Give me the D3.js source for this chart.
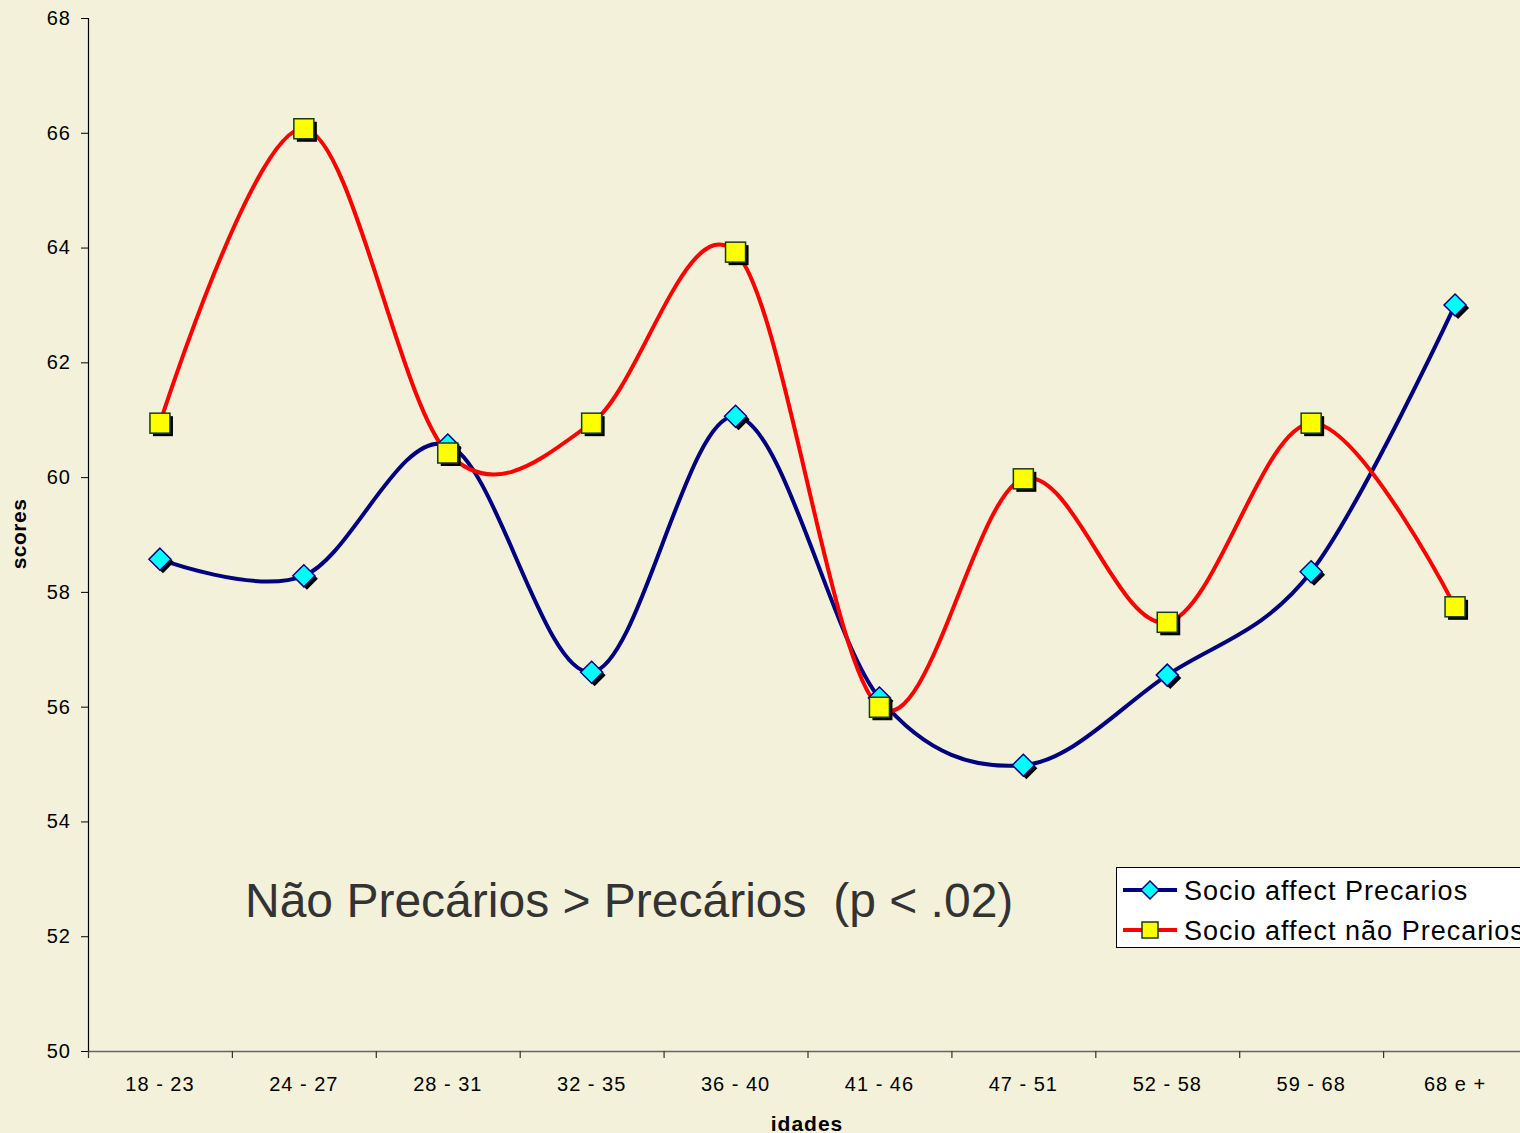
<!DOCTYPE html>
<html><head><meta charset="utf-8">
<script src="https://cdn.jsdelivr.net/npm/d3@7"></script>
<style>html,body{margin:0;padding:0;background:#F3F1DA;overflow:hidden}svg{display:block}text{font-family:Arial,"Liberation Sans",sans-serif}</style>
</head><body>
<script>
const categories = ["18 - 23","24 - 27","28 - 31","32 - 35","36 - 40","41 - 46","47 - 51","52 - 58","59 - 68","68 e +"];
const precarios = [58.57, 58.28, 60.56, 56.6, 61.06, 56.15, 54.98, 56.55, 58.35, 63.0];
const naoPrecarios = [60.94, 66.07, 60.42, 60.94, 63.92, 55.99, 59.97, 57.47, 60.94, 57.74];
const yTicks = [50,52,54,56,58,60,62,64,66,68];
const seriesNames = ["Socio affect Precarios","Socio affect não Precarios"];

(function(){
const W=1520,H=1133;
const svg=d3.select("body").append("svg").attr("width",W).attr("height",H);
svg.append("rect").attr("width",W).attr("height",H).attr("fill","#F3F1DA");
const plotLeft=88, bandW=143.9, plotTop=18, plotBottom=1051;
const x=d3.scaleBand().domain(categories).range([plotLeft,plotLeft+bandW*categories.length]);
const y=d3.scaleLinear().domain([50,68]).range([plotBottom,plotTop]);

const ya=svg.append("g").attr("transform",`translate(${plotLeft},0)`)
 .call(d3.axisLeft(y).tickValues(yTicks).tickSize(7).tickPadding(11).tickFormat(d3.format("d")));
ya.select(".domain").attr("stroke","#000").attr("stroke-width",1.2);
ya.selectAll(".tick line").attr("stroke","#000");
ya.selectAll("text").attr("font-size",20).attr("letter-spacing",1).attr("fill","#000").attr("dx",1);
const xa=svg.append("g").attr("transform",`translate(0,${plotBottom})`)
 .call(d3.axisBottom(x).tickSize(0).tickPadding(26));
xa.select(".domain").attr("stroke","#666").attr("stroke-width",1.5);
xa.selectAll("text").attr("font-size",20).attr("letter-spacing",1).attr("fill","#000");
svg.append("g").selectAll("line").data(categories.concat(["__end"])).join("line")
 .attr("x1",(d,i)=>plotLeft+i*bandW+0.5).attr("x2",(d,i)=>plotLeft+i*bandW+0.5)
 .attr("y1",plotBottom).attr("y2",plotBottom+7).attr("stroke","#333").attr("stroke-width",1.2);

svg.append("text").attr("x",807).attr("y",1131).attr("text-anchor","middle")
 .attr("font-size",21).attr("letter-spacing",1).attr("font-weight","bold").text("idades");
svg.append("text").attr("transform","translate(26,534) rotate(-90)").attr("text-anchor","middle")
 .attr("font-size",21).attr("letter-spacing",0.5).attr("font-weight","bold").text("scores");

const cx=c=>x(c)+x.bandwidth()/2;
const line=d3.line().x((d,i)=>cx(categories[i])).y(d=>y(d)).curve(d3.curveCatmullRom.alpha(0));

svg.append("path").datum(precarios).attr("d",line).attr("fill","none").attr("stroke","#000080").attr("stroke-width",4);
svg.append("path").datum(naoPrecarios).attr("d",line).attr("fill","none").attr("stroke","#FF0000").attr("stroke-width",4);

function diamond(g,px,py,s,shadow){
  const p=`M${px},${py-s} L${px+s},${py} L${px},${py+s} L${px-s},${py} Z`;
  if(shadow) g.append("path").attr("d",p).attr("transform","translate(3,3)").attr("fill","#000");
  g.append("path").attr("d",p).attr("fill","#00FFFF").attr("stroke","#000080").attr("stroke-width",1.5);
}
function square(g,px,py,s,shadow){
  if(shadow) g.append("rect").attr("x",px-s+3).attr("y",py-s+3).attr("width",2*s).attr("height",2*s).attr("fill","#000");
  g.append("rect").attr("x",px-s).attr("y",py-s).attr("width",2*s).attr("height",2*s).attr("fill","#FFFF00").attr("stroke","#1a3a1a").attr("stroke-width",1.5);
}
const gm=svg.append("g");
precarios.forEach((v,i)=>diamond(gm,cx(categories[i]),y(v),11,true));
naoPrecarios.forEach((v,i)=>square(gm,cx(categories[i]),y(v),10,true));

svg.append("text").attr("x",245).attr("y",917).attr("font-size",48).attr("fill","#333")
 .style("white-space","pre").text("Não Precários > Precários  (p < .02)");

const lg=svg.append("g");
lg.append("rect").attr("x",1116.5).attr("y",867.5).attr("width",420).attr("height",80).attr("fill","#fff").attr("stroke","#000").attr("stroke-width",1);
const legY=[890,930];
lg.append("line").attr("x1",1123).attr("x2",1177).attr("y1",legY[0]).attr("y2",legY[0]).attr("stroke","#000080").attr("stroke-width",4);
diamond(lg,1150,legY[0],9,false);
lg.append("line").attr("x1",1123).attr("x2",1177).attr("y1",legY[1]).attr("y2",legY[1]).attr("stroke","#FF0000").attr("stroke-width",4);
square(lg,1150,legY[1],8,false);
seriesNames.forEach((n,i)=>lg.append("text").attr("x",1184).attr("y",legY[i]+10).attr("font-size",27).attr("letter-spacing",1).attr("fill","#000").text(n));
})();
</script>
</body></html>
